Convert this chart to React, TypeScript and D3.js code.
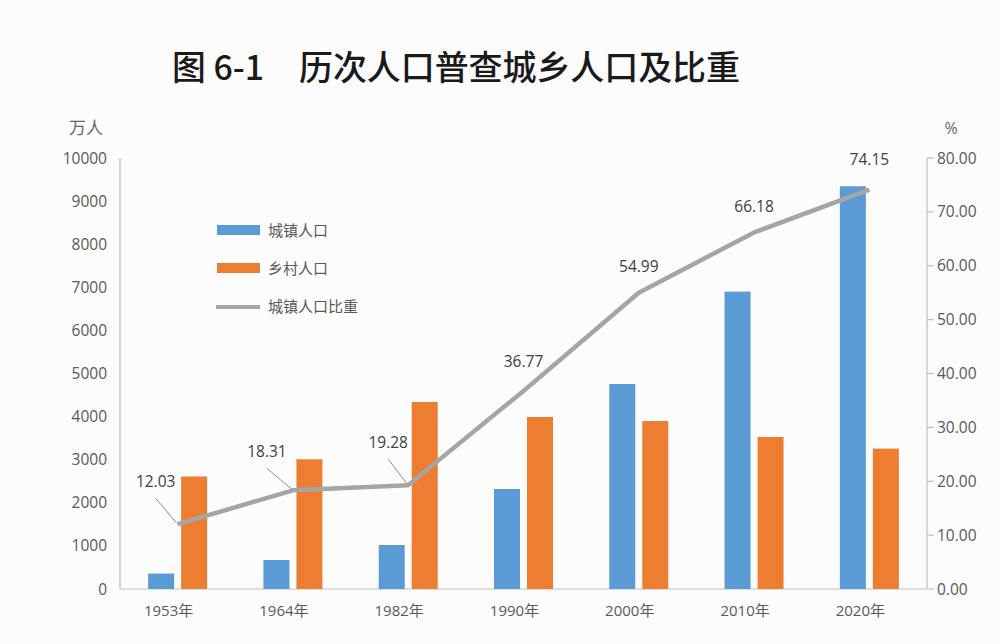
import React from "react";
import * as d3 from "d3";

const categories = ["1953年", "1964年", "1982年", "1990年", "2000年", "2010年", "2020年"];
const urbanPop = [358, 673, 1021, 2320, 4756, 6900, 9344];
const ruralPop = [2610, 3009, 4339, 3990, 3898, 3527, 3257];
const urbanRatio = [12.03, 18.31, 19.28, 36.77, 54.99, 66.18, 74.15];
const leftTicks = [0, 1000, 2000, 3000, 4000, 5000, 6000, 7000, 8000, 9000, 10000];
const rightTicks = [0, 10, 20, 30, 40, 50, 60, 70, 80];
const legendLabels = ["城镇人口", "乡村人口", "城镇人口比重"];
const titleNum = "图 6-1";
const titleText = "历次人口普查城乡人口及比重";

// label layout (offsets from point): [dx, dy, hasLeader]
const labelOffsets: [number, number, boolean][] = [
  [-22, -37, true],
  [-26, -33, true],
  [-20, -37, true],
  [0, -24, false],
  [0, -21, false],
  [0, -20, false],
  [0, -25, false],
];

const W = 1000, H = 644;
const BLUE = "#5B9BD5", ORANGE = "#ED7D31", GRAY = "#A5A5A5";
const TXT = "#595959";
const NUMFONT = "'Open Sans', 'Noto Sans', sans-serif";
const CJK = "'Noto Sans CJK SC', sans-serif";

export default function App() {
  const left = 120, right = 927, top = 158, bottom = 589;
  const x = d3.scaleBand<string>().domain(categories).range([left, right]).paddingInner(0).paddingOuter(0);
  const yL = d3.scaleLinear().domain([0, 10000]).range([bottom, top]);
  const yR = d3.scaleLinear().domain([0, 80]).range([bottom, top]);
  const barW = 26, gap = 7;
  const cx = (c: string) => (x(c) as number) + x.bandwidth() / 2;
  const line = d3.line<number>().x((_, i) => cx(categories[i])).y((d) => yR(d));

  return (
    <svg width={W} height={H} style={{ position: "absolute", left: 0, top: 0, background: "#fcfcfc" }}>
      <rect x={0} y={0} width={W} height={H} fill="#fcfcfc" />
      <text x={172} y={80} fontFamily={CJK} fontSize={34} fontWeight={500} fill="#1a1a1a" textLength={92} lengthAdjust="spacingAndGlyphs">
        {titleNum}
      </text>
      <text x={299} y={80} fontFamily={CJK} fontSize={34} fontWeight={500} fill="#1a1a1a" textLength={441} lengthAdjust="spacing">
        {titleText}
      </text>
      <text x={86} y={134} textAnchor="middle" fontFamily={CJK} fontSize={17} fill="#666">万人</text>
      <text x={951} y={134} textAnchor="middle" fontFamily={NUMFONT} fontSize={16} fill="#666">%</text>

      {/* axes */}
      <line x1={left} y1={top} x2={left} y2={bottom} stroke="#BFBFBF" strokeWidth={1.2} />
      <line x1={left} y1={bottom} x2={right} y2={bottom} stroke="#BFBFBF" strokeWidth={1.2} />
      <line x1={right} y1={top} x2={right} y2={bottom} stroke="#BFBFBF" strokeWidth={1.2} />
      {leftTicks.map((t) => (
        <text key={"l" + t} x={107} y={yL(t) + 5.5} textAnchor="end" fontFamily={NUMFONT} fontSize={15.5} fill={TXT}>{t}</text>
      ))}
      {rightTicks.map((t) => (
        <g key={"r" + t}>
          <line x1={right} x2={right + 7} y1={yR(t)} y2={yR(t)} stroke="#BFBFBF" strokeWidth={1.2} />
          <text x={937} y={yR(t) + 5.5} fontFamily={NUMFONT} fontSize={15.5} fill={TXT}>{t.toFixed(2)}</text>
        </g>
      ))}
      {categories.map((c) => (
        <text key={"x" + c} x={cx(c) - 9} y={616} textAnchor="middle" fontFamily={NUMFONT} fontSize={15} fill={TXT}>
          {c.replace("年", "")}<tspan fontFamily={CJK}>年</tspan>
        </text>
      ))}

      {/* bars */}
      {categories.map((c, i) => (
        <g key={"b" + c}>
          <rect x={cx(c) - gap / 2 - barW} y={yL(urbanPop[i])} width={barW} height={bottom - yL(urbanPop[i])} fill={BLUE} />
          <rect x={cx(c) + gap / 2} y={yL(ruralPop[i])} width={barW} height={bottom - yL(ruralPop[i])} fill={ORANGE} />
        </g>
      ))}

      {/* line */}
      <path d={line(urbanRatio) || ""} fill="none" stroke={GRAY} strokeWidth={4.5} strokeLinejoin="round" />

      {/* labels */}
      {urbanRatio.map((v, i) => {
        const px = cx(categories[i]);
        const py = yR(v);
        const [dx, dy, leader] = labelOffsets[i];
        return (
          <g key={"lb" + i}>
            {leader && (
              <line x1={px + dx} y1={py + dy + 11} x2={px - 1} y2={py - 1} stroke="#8c8c8c" strokeWidth={1} />
            )}
            <text x={px + dx} y={py + dy} textAnchor="middle" fontFamily={NUMFONT} fontSize={15.5} fill="#404040">{v.toFixed(2)}</text>
          </g>
        );
      })}

      {/* legend */}
      <rect x={217} y={225} width={43} height={10} fill={BLUE} />
      <text x={268} y={236} fontFamily={CJK} fontSize={15} fill={TXT}>{legendLabels[0]}</text>
      <rect x={217} y={263} width={43} height={10} fill={ORANGE} />
      <text x={268} y={274} fontFamily={CJK} fontSize={15} fill={TXT}>{legendLabels[1]}</text>
      <line x1={216} x2={260} y1={307} y2={307} stroke={GRAY} strokeWidth={4} />
      <text x={268} y={312} fontFamily={CJK} fontSize={15} fill={TXT}>{legendLabels[2]}</text>
    </svg>
  );
}
